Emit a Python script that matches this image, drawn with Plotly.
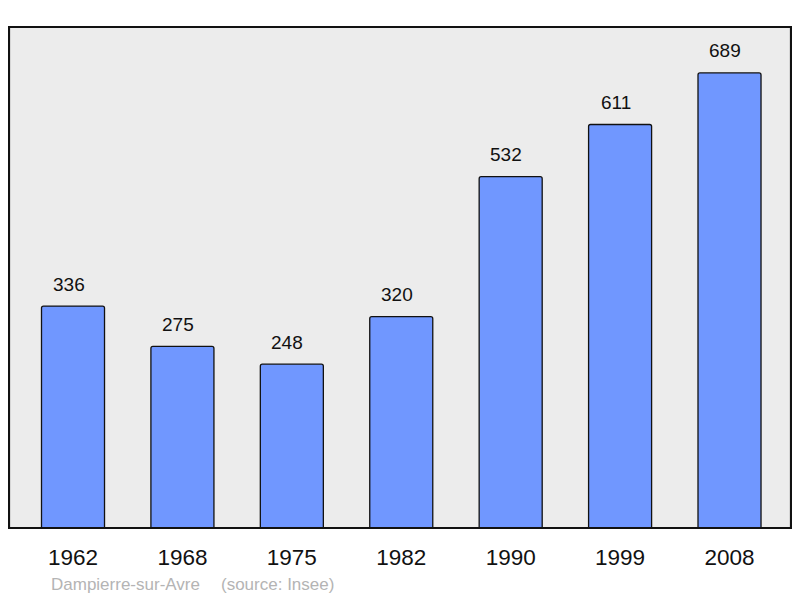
import plotly.graph_objects as go

years = ["1962", "1968", "1975", "1982", "1990", "1999", "2008"]
population = [336, 275, 248, 320, 532, 611, 689]
commune = "Dampierre-sur-Avre"
source = "(source: Insee)"

fig = go.Figure()
fig.add_trace(go.Bar(
    x=years,
    y=population,
    width=0.576,
    marker=dict(color="#7097ff", line=dict(color="#111111", width=1.3), cornerradius=2),
    hoverinfo="x+y",
))

# value labels above each bar (x given as category index), sitting a bit left of centre
for i, val in enumerate(population):
    fig.add_annotation(
        x=i, y=val, text=str(val), showarrow=False,
        yanchor="middle", yshift=22, xshift=-4.5,
        font=dict(size=19, color="#111111"),
    )

# footer
fig.add_annotation(x=0.051, y=-0.112, xref="paper", yref="paper", text=commune,
                   showarrow=False, xanchor="left", yanchor="middle",
                   font=dict(size=17, color="#b4b4b4"))
fig.add_annotation(x=0.2685, y=-0.112, xref="paper", yref="paper", text=source,
                   showarrow=False, xanchor="left", yanchor="middle",
                   font=dict(size=17, color="#b4b4b4"))

# frame round the plot area
fig.add_shape(type="rect", xref="paper", yref="paper", x0=0, y0=0, x1=1, y1=1,
              line=dict(color="#111111", width=2.2), layer="above")

# page has an 8px body margin, so the figure is 8px smaller than the window
fig.update_layout(
    width=792, height=590,
    margin=dict(l=1, r=9, t=19, b=70),
    paper_bgcolor="white",
    plot_bgcolor="#ececec",
    font=dict(family="Liberation Sans, Arial, sans-serif", color="#111111"),
    showlegend=False,
    xaxis=dict(type="category", range=[-0.585, 6.562], showgrid=False, zeroline=False,
               ticks="outside", ticklen=9, tickcolor="rgba(0,0,0,0)",
               tickfont=dict(size=22.5, color="#111111"), fixedrange=True),
    yaxis=dict(range=[0, 758.6], showgrid=False, zeroline=False,
               showticklabels=False, fixedrange=True),
)

fig.write_html("out.html")
